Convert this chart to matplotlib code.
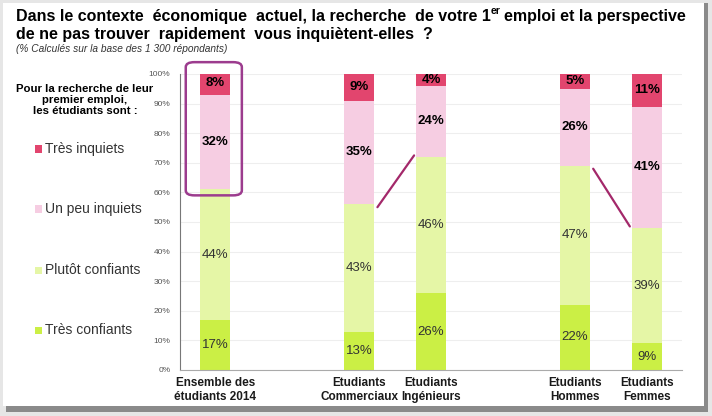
import numpy as np
import matplotlib
matplotlib.use("Agg")
import matplotlib.pyplot as plt
from matplotlib.patches import Rectangle, FancyBboxPatch

plt.rcParams["font.family"] = ["Liberation Sans", "DejaVu Sans"]

# Data
groups = ["Ensemble des\nétudiants 2014", "Etudiants\nCommerciaux", "Etudiants\nIngénieurs",
          "Etudiants\nHommes", "Etudiants\nFemmes"]
positions = [0, 2, 3, 5, 6]
tres_confiants = [17, 13, 26, 22, 9]
plutot_confiants = [44, 43, 46, 47, 39]
un_peu_inquiets = [32, 35, 24, 26, 41]
tres_inquiets = [8, 9, 4, 5, 11]

series = [
    ("Très confiants", tres_confiants, "#CBEF45", False),
    ("Plutôt confiants", plutot_confiants, "#E5F6A6", False),
    ("Un peu inquiets", un_peu_inquiets, "#F6CDE2", True),
    ("Très inquiets", tres_inquiets, "#E2456E", True),
]

W, H = 712, 416
fig = plt.figure(figsize=(W / 100, H / 100), dpi=100)
fig.patch.set_facecolor("#e6e6e6")


def fx(px):
    return px / W


def fy(py):
    return 1 - py / H


# white panel with shadow
fig.patches.append(Rectangle((fx(6), fy(412)), fx(702), 409 / H, transform=fig.transFigure,
                             facecolor="#8a8a8a", edgecolor="none", zorder=-3))
fig.patches.append(Rectangle((fx(3), fy(406)), fx(701), 403 / H, transform=fig.transFigure,
                             facecolor="white", edgecolor="none", zorder=-2))

ax = fig.add_axes([fx(180), fy(370), fx(682) - fx(180), fy(74) - fy(370)])
ax.set_facecolor("none")

bar_w = 0.41
bottom = np.zeros(len(positions))
for name, vals, color, bold in series:
    vals = np.array(vals, dtype=float)
    ax.bar(positions, vals, bottom=bottom, width=bar_w, color=color, edgecolor="none", zorder=2)
    for x, b, v in zip(positions, bottom, vals):
        ax.text(x, b + v / 2, f"{int(v)}%", ha="center", va="center", zorder=4,
                fontsize=9.5, fontweight="bold" if bold else "normal",
                color="black" if bold else "#333333")
    bottom += vals

ax.set_ylim(0, 100)
ax.set_xlim(-0.49, 6.49)
ax.set_yticks(np.arange(0, 101, 10))
ax.set_yticklabels([f"{v}%" for v in range(0, 101, 10)], fontsize=6, color="#555555")
ax.yaxis.grid(True, color="#eeeeee", linewidth=0.8, zorder=0)
ax.set_axisbelow(True)
ax.tick_params(axis="y", length=0, pad=7)
ax.tick_params(axis="x", length=0, pad=5)
ax.set_xticks(positions)
ax.set_xticklabels(groups, fontsize=8.5, fontweight="bold", color="#1a1a1a", linespacing=1.25)
for side in ["top", "right"]:
    ax.spines[side].set_visible(False)
ax.spines["left"].set_color("#777777")
ax.spines["bottom"].set_color("#aaaaaa")

# connectors between compared bars (top of "Plutôt confiants")
conf_top = np.array(tres_confiants) + np.array(plutot_confiants)
for i, j in [(1, 2), (3, 4)]:
    ax.plot([positions[i] + bar_w / 2 + 0.05, positions[j] - bar_w / 2 - 0.03],
            [conf_top[i] - 1, conf_top[j] + 0.5], color="#A3286A", linewidth=1.6,
            zorder=5, solid_capstyle="round")

# highlight box around first bar worries
box = FancyBboxPatch((-0.41, 59), 0.78, 45, boxstyle="round,pad=0,rounding_size=0.12",
                     mutation_aspect=14, facecolor="none", edgecolor="#9C3C8E",
                     linewidth=1.8, zorder=6, clip_on=False)
ax.add_patch(box)

# titles (superscript placed by measuring the text)
renderer = fig.canvas.get_renderer()
t1 = fig.text(fx(16), fy(16), "Dans le contexte  économique  actuel, la recherche  de votre 1",
              fontsize=11.5, fontweight="bold", va="center", ha="left")
bb = t1.get_window_extent(renderer)
sup = fig.text(bb.x1 / W, fy(11), "er", fontsize=7.5, fontweight="bold", va="center", ha="left")
bb2 = sup.get_window_extent(renderer)
fig.text(bb2.x1 / W + 3 / W, fy(16), "emploi et la perspective",
         fontsize=11.5, fontweight="bold", va="center", ha="left")
fig.text(fx(16), fy(34), "de ne pas trouver  rapidement  vous inquiètent-elles  ?",
         fontsize=11.5, fontweight="bold", va="center", ha="left")
fig.text(fx(16), fy(49), "(% Calculés sur la base des 1 300 répondants)",
         fontsize=7.3, style="italic", va="center", ha="left", color="#333333")

# legend on the left
fig.text(fx(85), fy(100), "Pour la recherche de leur\npremier emploi,\nles étudiants sont :",
         fontsize=8.2, fontweight="bold", ha="center", va="center", linespacing=1.15)
legend_y = [149, 209, 270, 330]
for (name, vals, color, bold), py in zip(series[::-1], legend_y):
    fig.patches.append(Rectangle((fx(35), fy(py + 3.5)), fx(7), 7 / H, transform=fig.transFigure,
                                 facecolor=color, edgecolor="none"))
    fig.text(fx(45), fy(py), name, fontsize=10, ha="left", va="center", color="#333333")

fig.savefig("out.png", dpi=100, facecolor=fig.get_facecolor())
